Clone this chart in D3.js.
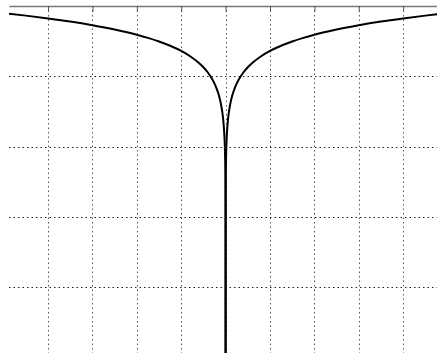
<!DOCTYPE html>
<html>
<head>
<meta charset="utf-8">
<script src="https://cdn.jsdelivr.net/npm/d3@7"></script>
<style>
  html, body { margin: 0; padding: 0; background: #fff; }
  svg { display: block; }
</style>
</head>
<body>
<svg id="chart" width="437" height="353"></svg>
<script>
// Grid positions (data units)
const xTicks = [-4, -3, -2, -1, 0, 1, 2, 3, 4];
const yTicks = [-1, -2, -3, -4];

// Curve samples for the right-hand branch (|x| and y); the curve is
// symmetric about x = 0, so the left branch reuses them with x negated.
const absX = [0, 0.001, 0.002, 0.005, 0.01, 0.02, 0.03, 0.05, 0.07, 0.1,
  0.15, 0.2, 0.25, 0.3, 0.4, 0.5, 0.6, 0.8, 1, 1.25, 1.5, 1.75, 2, 2.5,
  3, 3.5, 4, 4.5, 4.88];
const yVals = [-5.2, -2.949, -2.717, -2.411, -2.180, -1.948, -1.812, -1.642,
  -1.529, -1.410, -1.274, -1.178, -1.104, -1.043, -0.946, -0.872, -0.811,
  -0.715, -0.640, -0.566, -0.505, -0.453, -0.408, -0.334, -0.273, -0.221,
  -0.177, -0.137, -0.110];

const svg = d3.select("#chart");
const margin = { top: 6, left: 9 };
const innerW = 433.2, innerH = 351.5;

const x = d3.scaleLinear().domain([-4.88, 4.88]).range([0, innerW]);
const y = d3.scaleLinear().domain([-5, 0]).range([innerH, 0]);

svg.append("defs").append("clipPath").attr("id", "plot-clip")
  .append("rect").attr("x", 0).attr("y", 0).attr("width", innerW).attr("height", innerH);

const g = svg.append("g").attr("transform", `translate(${margin.left},${margin.top})`);

// Dotted grid
g.append("g").selectAll("line").data(xTicks).join("line")
  .attr("x1", d => Math.round(x(d)) + 0.5).attr("x2", d => Math.round(x(d)) + 0.5)
  .attr("y1", 0).attr("y2", innerH)
  .attr("stroke", "#555").attr("stroke-width", 1)
  .attr("stroke-dasharray", "1.5,3");

g.append("g").selectAll("line").data(yTicks).join("line")
  .attr("y1", d => Math.round(y(d)) + 0.5).attr("y2", d => Math.round(y(d)) + 0.5)
  .attr("x1", 0).attr("x2", innerW)
  .attr("stroke", "#222").attr("stroke-width", 1)
  .attr("stroke-dasharray", "1.5,3");

// Top axis with inward ticks
const axis = g.append("g")
  .call(d3.axisTop(x).tickValues(xTicks).tickSize(-6).tickSizeOuter(0).tickFormat(""));
axis.select(".domain").attr("stroke", "#777").attr("stroke-width", 1.6);
axis.selectAll(".tick line").attr("stroke", "#555").attr("stroke-width", 1);

// Curve
const right = absX.map((v, i) => [v, yVals[i]]);
const left = absX.map((v, i) => [-v, yVals[i]]).reverse();
const line = d3.line().x(d => x(d[0])).y(d => y(d[1])).curve(d3.curveMonotoneX);

const curves = g.append("g").attr("clip-path", "url(#plot-clip)");
[left, right].forEach(branch => {
  curves.append("path").datum(branch)
    .attr("d", line)
    .attr("fill", "none")
    .attr("stroke", "#000")
    .attr("stroke-width", 2)
    .attr("stroke-linejoin", "round");
});
</script>
</body>
</html>
